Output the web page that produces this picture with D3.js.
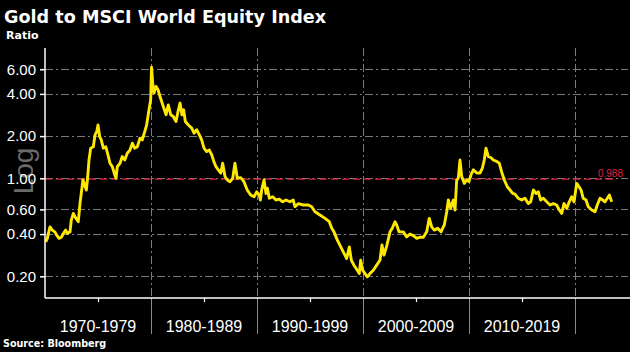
<!DOCTYPE html>
<html>
<head>
<meta charset="utf-8">
<script src="https://cdn.jsdelivr.net/npm/d3@7"></script>
<style>
html,body{margin:0;padding:0;background:#000;}
svg{display:block;}
</style>
</head>
<body>
<svg id="chart" width="630" height="352"></svg>
<script>
// ---- data ----
const years = [1970.07,1970.22,1970.47,1970.69,1970.92,1971.10,1971.32,1971.54,1971.73,1971.95,1972.10,1972.36,1972.48,1972.67,1972.90,1973.14,1973.30,1973.42,1973.58,1973.75,1973.90,1974.03,1974.15,1974.31,1974.56,1974.72,1974.88,1975.00,1975.16,1975.31,1975.50,1975.73,1975.94,1976.13,1976.35,1976.58,1976.70,1976.82,1977.08,1977.29,1977.52,1977.76,1978.02,1978.24,1978.46,1978.71,1978.96,1979.18,1979.41,1979.59,1979.81,1979.97,1980.05,1980.16,1980.28,1980.47,1980.66,1980.85,1981.16,1981.42,1981.63,1981.86,1982.10,1982.36,1982.55,1982.74,1982.92,1983.08,1983.24,1983.52,1983.84,1984.06,1984.31,1984.56,1984.78,1985.00,1985.25,1985.50,1985.73,1985.94,1986.13,1986.35,1986.58,1986.76,1986.98,1987.20,1987.45,1987.71,1987.92,1988.14,1988.46,1988.77,1989.08,1989.40,1989.72,1989.97,1990.22,1990.32,1990.44,1990.66,1990.85,1990.98,1991.16,1991.48,1991.79,1992.10,1992.42,1992.74,1993.11,1993.42,1993.58,1993.90,1994.37,1994.84,1995.16,1995.47,1995.94,1996.42,1996.82,1997.05,1997.26,1997.58,1997.90,1998.21,1998.46,1998.71,1998.90,1999.15,1999.46,1999.65,1999.78,1999.97,2000.19,2000.41,2000.66,2000.97,2001.29,2001.60,2001.79,2001.98,2002.24,2002.55,2002.76,2003.02,2003.18,2003.40,2003.80,2004.12,2004.43,2004.75,2005.07,2005.38,2005.69,2006.01,2006.25,2006.48,2006.73,2007.05,2007.36,2007.67,2007.90,2008.05,2008.27,2008.52,2008.68,2008.84,2008.99,2009.15,2009.31,2009.56,2009.78,2010.00,2010.19,2010.41,2010.73,2011.04,2011.26,2011.44,2011.60,2011.82,2012.08,2012.29,2012.61,2012.86,2013.08,2013.33,2013.61,2013.87,2014.12,2014.34,2014.65,2014.97,2015.28,2015.59,2015.82,2016.07,2016.32,2016.54,2016.76,2017.01,2017.33,2017.64,2017.95,2018.27,2018.52,2018.75,2018.96,2019.22,2019.46,2019.69,2019.91,2020.16,2020.38,2020.57,2020.78,2021.04,2021.25,2021.58,2021.89,2022.10,2022.36,2022.61,2022.83,2023.05,2023.24,2023.46];
const ratio = [0.352,0.373,0.45,0.427,0.415,0.393,0.373,0.38,0.404,0.427,0.404,0.415,0.503,0.562,0.52,0.49,0.66,0.78,0.972,0.895,0.825,1.03,1.35,1.64,1.68,2.04,2.15,2.40,1.98,1.88,1.64,1.68,1.47,1.28,1.21,1.06,1.0,1.21,1.28,1.43,1.35,1.51,1.59,1.78,1.64,1.68,1.93,1.88,2.15,2.40,3.08,3.63,6.2,4.77,4.05,4.52,4.3,3.83,3.25,2.84,3.34,2.84,2.76,2.54,3.0,3.44,2.84,3.08,2.54,2.40,2.28,2.10,2.22,2.04,1.88,1.64,1.55,1.59,1.47,1.31,1.21,1.15,1.09,1.28,1.03,0.972,0.946,1.0,1.28,1.0,1.01,0.946,0.825,0.76,0.739,0.80,0.76,0.70,0.825,0.972,0.78,0.85,0.72,0.739,0.70,0.71,0.68,0.70,0.68,0.70,0.627,0.66,0.645,0.645,0.627,0.577,0.547,0.518,0.49,0.44,0.415,0.362,0.324,0.291,0.268,0.324,0.26,0.24,0.221,0.209,0.26,0.221,0.209,0.198,0.209,0.221,0.24,0.26,0.334,0.283,0.33,0.415,0.44,0.49,0.465,0.415,0.415,0.382,0.40,0.39,0.373,0.38,0.38,0.415,0.518,0.45,0.427,0.44,0.415,0.465,0.577,0.70,0.61,0.70,0.594,0.972,1.0,1.35,1.03,0.92,0.972,0.95,1.06,1.15,1.09,1.09,1.18,1.35,1.64,1.43,1.40,1.35,1.32,1.28,1.11,0.972,0.87,0.825,0.78,0.77,0.72,0.70,0.72,0.66,0.68,0.825,0.78,0.80,0.70,0.72,0.68,0.645,0.66,0.645,0.594,0.562,0.66,0.61,0.68,0.739,0.68,0.92,0.87,0.825,0.72,0.70,0.627,0.594,0.577,0.645,0.72,0.70,0.68,0.72,0.76,0.68];
const yTicks = [0.2,0.4,0.6,1,2,4,6];
const yTickLabels = ["0.20","0.40","0.60","1.00","2.00","4.00","6.00"];
const decadeLabels = ["1970-1979","1980-1989","1990-1999","2000-2009","2010-2019"];
const decadeStarts = [1970,1980,1990,2000,2010];
const decadeBounds = [1980,1990,2000,2010,2020];
const refValue = 0.988;
const refLabel = "0.988";

// ---- layout ----
const L = 45, R = 628, T = 48, B = 298;
const svg = d3.select("#chart");
svg.append("rect").attr("width",630).attr("height",352).attr("fill","#000");

const x = d3.scaleLinear().domain([1970,2025]).range([L,R]);
const y = d3.scaleLog().domain([0.14,8.5]).range([B,T]);

const gridColor = "#7a7a7a";
svg.append("g").selectAll("line").data(yTicks).join("line")
  .attr("x1",L).attr("x2",R)
  .attr("y1",d=>Math.round(y(d))+0.5).attr("y2",d=>Math.round(y(d))+0.5)
  .attr("stroke",gridColor).attr("stroke-width",1)
  .attr("stroke-dasharray","8,3,2,3");
svg.append("g").selectAll("line").data(decadeBounds).join("line")
  .attr("x1",d=>Math.round(x(d))+0.5).attr("x2",d=>Math.round(x(d))+0.5)
  .attr("y1",T).attr("y2",B)
  .attr("stroke",gridColor).attr("stroke-width",1)
  .attr("stroke-dasharray","8,3,2,3");
svg.append("g").selectAll("line").data(decadeBounds).join("line")
  .attr("x1",d=>Math.round(x(d))+0.5).attr("x2",d=>Math.round(x(d))+0.5)
  .attr("y1",B).attr("y2",334)
  .attr("stroke","#8a8a8a").attr("stroke-width",1);

svg.append("text")
  .attr("transform",`translate(33,171) rotate(-90)`)
  .attr("text-anchor","middle")
  .attr("font-family","Liberation Sans, Arial, sans-serif")
  .attr("font-size",28).attr("fill","#6a6a6a").text("Log");

svg.append("line")
  .attr("x1",L).attr("x2",x(2023.55))
  .attr("y1",y(refValue)).attr("y2",y(refValue))
  .attr("stroke","#e0223e").attr("stroke-width",1.2)
  .attr("stroke-dasharray","7,4");
svg.append("text")
  .attr("x",623).attr("y",y(refValue)-2.5)
  .attr("text-anchor","end")
  .attr("font-family","Liberation Sans, Arial, sans-serif")
  .attr("font-size",10).attr("fill","#e0223e").text(refLabel);

const pts = years.map((d,i)=>[d,ratio[i]]);
svg.append("path").datum(pts)
  .attr("d",d3.line().x(d=>x(d[0])).y(d=>y(d[1])))
  .attr("fill","none").attr("stroke","#ffe800")
  .attr("stroke-width",2.9).attr("stroke-linejoin","round");

const yAxis = d3.axisLeft(y).tickValues(yTicks)
  .tickFormat((d,i)=>yTickLabels[i]).tickSize(5).tickPadding(4);
const gy = svg.append("g").attr("transform",`translate(${L},0)`).call(yAxis);
gy.select(".domain").attr("stroke","#fff").attr("stroke-width",1.5).attr("d",`M0,${T}V${B}`);
gy.selectAll(".tick line").attr("stroke","#fff").attr("stroke-width",1.5);
gy.selectAll(".tick text").attr("fill","#fff")
  .attr("font-family","Liberation Sans, Arial, sans-serif").attr("font-size",15);

const xAxis = d3.axisBottom(x).tickValues(decadeStarts.map(d=>d+5))
  .tickFormat("").tickSize(4);
const gx = svg.append("g").attr("transform",`translate(0,${B})`).call(xAxis);
gx.select(".domain").attr("stroke","#fff").attr("stroke-width",1.5).attr("d",`M${L},0H${630}`);
gx.selectAll(".tick line").attr("stroke","#fff").attr("stroke-width",1.2);

svg.append("g").selectAll("text").data(decadeLabels).join("text")
  .attr("x",(d,i)=>x(decadeStarts[i]+5)).attr("y",332)
  .attr("text-anchor","middle")
  .attr("font-family","Liberation Sans, Arial, sans-serif")
  .attr("font-size",16).attr("fill","#fff").text(d=>d);

svg.append("text").attr("x",4).attr("y",23)
  .attr("font-family","DejaVu Sans, sans-serif").attr("font-weight","bold")
  .attr("font-size",17.6).attr("fill","#fff").text("Gold to MSCI World Equity Index");
svg.append("text").attr("x",6).attr("y",39)
  .attr("font-family","DejaVu Sans, sans-serif").attr("font-weight","bold")
  .attr("font-size",11).attr("fill","#fff").text("Ratio");
svg.append("text").attr("x",3).attr("y",347)
  .attr("font-family","DejaVu Sans, sans-serif").attr("font-weight","bold")
  .attr("font-size",9.6).attr("fill","#fff").text("Source: Bloomberg");
</script>
</body>
</html>
